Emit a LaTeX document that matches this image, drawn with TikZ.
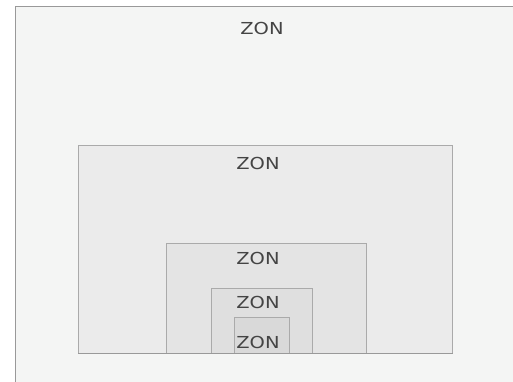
\documentclass[tikz,border=0pt]{standalone}
\usepackage{fontspec}
\usepackage{graphicx}
\setmainfont{DejaVu Sans}
\definecolor{bgout}{HTML}{F4F5F4}
\definecolor{fillA}{HTML}{EBEBEB}
\definecolor{fillB}{HTML}{E4E4E4}
\definecolor{fillC}{HTML}{DFDFDF}
\definecolor{fillD}{HTML}{D9D9D9}
\definecolor{edgeout}{HTML}{999999}
\definecolor{edgein}{HTML}{AAAAAA}
\definecolor{txt}{HTML}{444444}
\tikzset{
  zone/.style={draw=edgein, line width=1pt},
  zlabel/.style={text=txt, inner sep=0pt, font=\fontsize{16.5pt}{19pt}\selectfont},
}
\newcommand{\zontext}{\scalebox{1.18}[1]{ZON}}
\begin{document}
\begin{tikzpicture}[x=1pt,y=-1pt]
\useasboundingbox (0,0) rectangle (513,381);
\clip (0,0) rectangle (513,381);
\fill[white] (0,0) rectangle (513,381);
\draw[fill=bgout, draw=edgeout, line width=1.2pt] (15.5,6.5) rectangle (530,400);
\draw[zone, fill=fillA] (78.5,145.5) rectangle (452.5,353);
\draw[zone, fill=fillB] (166,243.5) rectangle (366.5,353);
\draw[zone, fill=fillC] (211.5,288.5) rectangle (312.5,353);
\draw[zone, fill=fillD] (234.5,317) rectangle (289.5,353);
\draw[edgeout, line width=1pt] (78,353) -- (453,353);
\node[zlabel] (l1) at (262,28.3) {\zontext};
\node[zlabel] (l2) at (258,163) {\zontext};
\node[zlabel] (l3) at (258,258.3) {\zontext};
\node[zlabel] (l4) at (258,302) {\zontext};
\node[zlabel] (l5) at (258,342) {\zontext};
\end{tikzpicture}
\end{document}
